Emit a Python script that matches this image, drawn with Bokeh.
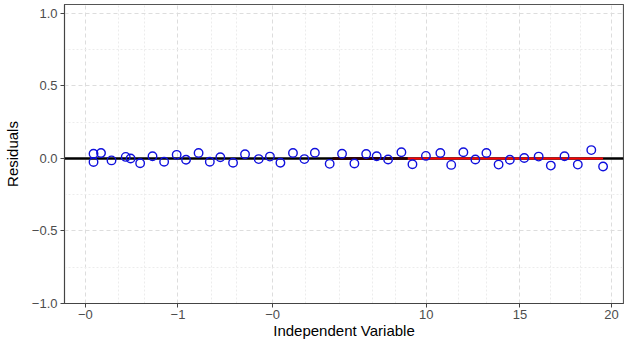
from bokeh.plotting import figure
from bokeh.models import FixedTicker, Range1d
from bokeh.embed import file_html
from bokeh.resources import INLINE

# data
x_vals = [-7.77, -7.77, -7.37, -6.81, -6.05, -5.79, -5.28, -4.62, -4.00, -3.33,
          -2.83, -2.16, -1.56, -1.00, -0.32, 0.32, 1.05, 1.65, 2.21, 2.88,
          3.49, 4.05, 4.84, 5.50, 6.16, 6.79, 7.35, 7.96, 8.67, 9.26,
          9.98, 10.75, 11.33, 11.98, 12.62, 13.21, 13.86, 14.46, 15.23, 16.00,
          16.65, 17.38, 18.09, 18.81, 19.44]
residuals = [0.033, -0.024, 0.038, -0.013, 0.011, 0.000, -0.033, 0.016, -0.022, 0.025,
             -0.009, 0.038, -0.022, 0.009, -0.029, 0.029, -0.004, 0.013, -0.029, 0.038,
             -0.004, 0.040, -0.037, 0.033, -0.034, 0.031, 0.016, -0.007, 0.043, -0.040,
             0.018, 0.038, -0.044, 0.043, -0.007, 0.038, -0.042, -0.009, 0.003, 0.013,
             -0.049, 0.016, -0.042, 0.058, -0.055]

smooth_dark_x = [5.0, 9.0]
smooth_dark_y = [0.0, 0.0]
smooth_x = [9.0, 12.0, 15.0, 19.44]
smooth_y = [0.0, 0.0, 0.0, 0.0]

x_ticks = [-8.21, -3.26, 1.79, 10.0, 15.0, 19.89]
x_tick_labels = ["\u22120", "\u22121", "\u22120", "10", "15", "20"]
x_minor = [-6.42, -5.05, -1.47, -0.11, 3.53, 5.37, 7.11, 8.37, 11.74, 13.21, 16.63, 18.21]
y_ticks = [-1.0, -0.5, 0.0, 0.5, 1.0]
y_tick_labels = ["\u22121.0", "\u22120.5", "0.0", "0.5", "1.0"]
y_minor = [-0.75, -0.25, 0.25, 0.75]

FONT = "Liberation Sans"

p = figure(width=624, height=343, output_backend="svg", toolbar_location=None,
           x_range=Range1d(-9.32, 20.53), y_range=Range1d(-1.0, 1.062),
           min_border_left=64, min_border_right=1, min_border_top=4, min_border_bottom=40)
p.background_fill_color = "white"
p.border_fill_color = "white"
p.outline_line_color = "#555555"
p.outline_line_width = 1.2

p.xaxis.ticker = FixedTicker(ticks=x_ticks, minor_ticks=x_minor)
p.xaxis.major_label_overrides = {t: l for t, l in zip(x_ticks, x_tick_labels)}
p.yaxis.ticker = FixedTicker(ticks=y_ticks, minor_ticks=y_minor)
p.yaxis.major_label_overrides = {t: l for t, l in zip(y_ticks, y_tick_labels)}

for ax in (p.xaxis[0], p.yaxis[0]):
    ax.axis_line_color = "#444444"
    ax.major_tick_line_color = "#444444"
    ax.major_tick_in = 0
    ax.major_tick_out = 4
    ax.minor_tick_line_color = None
    ax.major_label_text_font = FONT
    ax.major_label_text_font_size = "13px"
    ax.major_label_text_color = "#4d4d4d"
    ax.axis_label_text_font = FONT
    ax.axis_label_text_font_size = "15px"
    ax.axis_label_text_font_style = "normal"
    ax.axis_label_text_color = "black"

p.xaxis.axis_label = "Independent Variable"
p.yaxis.axis_label = "Residuals"
p.xaxis.axis_label_standoff = 0
p.yaxis.axis_label_standoff = 8
p.xaxis.major_label_standoff = 2
p.yaxis.major_label_standoff = 3

for g in (p.xgrid[0], p.ygrid[0]):
    g.grid_line_color = "#dddddd"
    g.grid_line_dash = "4 3"
    g.grid_line_width = 1
    g.minor_grid_line_color = "#ececec"
    g.minor_grid_line_dash = "2 2"
    g.minor_grid_line_width = 1

p.line(smooth_dark_x, smooth_dark_y, line_color="#700000", line_width=2.5)
p.hspan(y=[0.0], line_color="black", line_width=2.5)
p.line(smooth_x, smooth_y, line_color="red", line_width=2.2)
p.line(smooth_dark_x, smooth_dark_y, line_color="#3a0000", line_width=2.5, line_alpha=0.8)

p.scatter(x_vals, residuals, size=8.5, fill_color=None, line_color="#1010dd", line_width=1.4)

open("out.html", "w").write(file_html(p, INLINE))
